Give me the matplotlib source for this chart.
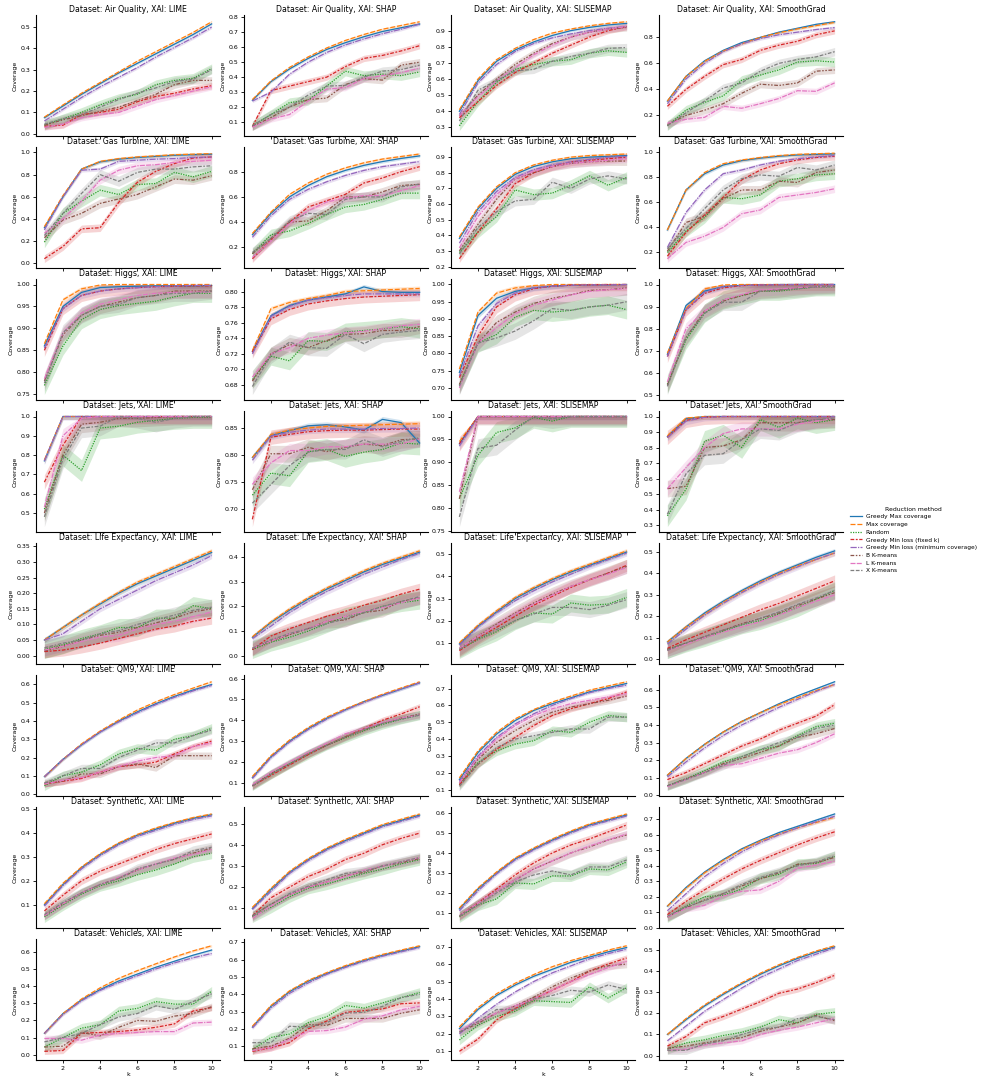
import matplotlib
matplotlib.use("Agg")
import matplotlib.pyplot as plt
import numpy as np

k = [1, 2, 3, 4, 5, 6, 7, 8, 9, 10]

methods = ["Greedy Max coverage", "Max coverage", "Random", "Greedy Min loss (fixed k)",
           "Greedy Min loss (minimum coverage)", "B K-means", "L K-means", "X K-means"]
datasets = ["Air Quality", "Gas Turbine", "Higgs", "Jets", "Life Expectancy", "QM9", "Synthetic", "Vehicles"]
xais = ["LIME", "SHAP", "SLISEMAP", "SmoothGrad"]

colors = ["#1f77b4", "#ff7f0e", "#2ca02c", "#d62728", "#9467bd", "#8c564b", "#e377c2", "#7f7f7f"]
dashes = [(), (4, 1.5), (1, 1), (3, 1.25, 1.5, 1.25), (5, 1, 1, 1),
          (3, 1.25, 1.25, 1.25, 1.25, 1.25), (4, 1, 4, 1, 1, 1), (3, 1.25, 3, 1.25, 1.25, 1.25)]
# band half width as share of the panel range
spread = [0.012, 0.012, 0.045, 0.03, 0.015, 0.035, 0.03, 0.04]
spread_scale = [1.0, 1.2, 2.0, 2.4, 2.0, 1.0, 1.2, 1.0]

# rows: blue, orange, green, red, purple, brown, pink, gray
air_quality_lime = [
    [0.075, 0.13, 0.185, 0.235, 0.285, 0.33, 0.375, 0.42, 0.465, 0.515],
    [0.078, 0.135, 0.19, 0.24, 0.29, 0.34, 0.385, 0.43, 0.475, 0.525],
    [0.04, 0.07, 0.1, 0.135, 0.165, 0.185, 0.23, 0.25, 0.26, 0.305],
    [0.035, 0.04, 0.09, 0.1, 0.115, 0.15, 0.175, 0.19, 0.21, 0.225],
    [0.06, 0.115, 0.17, 0.22, 0.265, 0.31, 0.36, 0.405, 0.45, 0.50],
    [0.04, 0.065, 0.085, 0.105, 0.125, 0.155, 0.185, 0.23, 0.25, 0.25],
    [0.03, 0.045, 0.075, 0.09, 0.1, 0.13, 0.16, 0.18, 0.2, 0.22],
    [0.045, 0.07, 0.09, 0.125, 0.16, 0.19, 0.215, 0.245, 0.255, 0.30],
]
air_quality_shap = [
    [0.245, 0.37, 0.455, 0.525, 0.585, 0.63, 0.67, 0.705, 0.73, 0.755],
    [0.25, 0.375, 0.465, 0.535, 0.595, 0.645, 0.685, 0.72, 0.745, 0.77],
    [0.075, 0.15, 0.23, 0.245, 0.34, 0.44, 0.41, 0.42, 0.41, 0.435],
    [0.07, 0.31, 0.34, 0.37, 0.4, 0.47, 0.525, 0.545, 0.575, 0.61],
    [0.24, 0.3, 0.42, 0.5, 0.565, 0.615, 0.655, 0.69, 0.72, 0.755],
    [0.07, 0.13, 0.2, 0.25, 0.26, 0.35, 0.39, 0.38, 0.48, 0.5],
    [0.065, 0.12, 0.15, 0.24, 0.32, 0.33, 0.39, 0.41, 0.43, 0.46],
    [0.075, 0.15, 0.2, 0.28, 0.34, 0.345, 0.4, 0.44, 0.45, 0.48],
]
air_quality_slisemap = [
    [0.4, 0.59, 0.71, 0.78, 0.83, 0.87, 0.9, 0.92, 0.935, 0.945],
    [0.41, 0.6, 0.72, 0.79, 0.845, 0.885, 0.91, 0.93, 0.945, 0.955],
    [0.31, 0.46, 0.58, 0.66, 0.69, 0.71, 0.72, 0.76, 0.775, 0.765],
    [0.36, 0.46, 0.56, 0.64, 0.7, 0.76, 0.81, 0.86, 0.9, 0.925],
    [0.38, 0.575, 0.69, 0.77, 0.82, 0.855, 0.88, 0.9, 0.915, 0.925],
    [0.37, 0.5, 0.6, 0.69, 0.76, 0.82, 0.86, 0.89, 0.91, 0.92],
    [0.37, 0.49, 0.59, 0.67, 0.75, 0.81, 0.86, 0.89, 0.91, 0.925],
    [0.34, 0.53, 0.59, 0.65, 0.66, 0.71, 0.74, 0.76, 0.79, 0.795],
]
air_quality_smoothgrad = [
    [0.31, 0.5, 0.62, 0.7, 0.76, 0.8, 0.84, 0.87, 0.9, 0.92],
    [0.31, 0.5, 0.615, 0.695, 0.75, 0.8, 0.835, 0.865, 0.89, 0.915],
    [0.12, 0.24, 0.3, 0.35, 0.47, 0.51, 0.55, 0.61, 0.62, 0.61],
    [0.27, 0.4, 0.5, 0.59, 0.63, 0.7, 0.74, 0.77, 0.82, 0.85],
    [0.29, 0.48, 0.6, 0.69, 0.75, 0.79, 0.82, 0.84, 0.86, 0.875],
    [0.13, 0.2, 0.24, 0.29, 0.37, 0.44, 0.43, 0.45, 0.54, 0.55],
    [0.14, 0.17, 0.185, 0.27, 0.255, 0.29, 0.33, 0.39, 0.385, 0.45],
    [0.12, 0.22, 0.31, 0.41, 0.45, 0.54, 0.6, 0.63, 0.65, 0.69],
]
gas_turbine_lime = [
    [0.32, 0.6, 0.85, 0.915, 0.94, 0.955, 0.965, 0.975, 0.98, 0.985],
    [0.33, 0.61, 0.85, 0.92, 0.945, 0.96, 0.97, 0.98, 0.985, 0.99],
    [0.19, 0.45, 0.56, 0.66, 0.62, 0.71, 0.72, 0.82, 0.78, 0.83],
    [0.04, 0.15, 0.31, 0.32, 0.55, 0.73, 0.83, 0.9, 0.95, 0.96],
    [0.3, 0.6, 0.84, 0.85, 0.92, 0.93, 0.94, 0.945, 0.955, 0.96],
    [0.23, 0.39, 0.45, 0.54, 0.58, 0.62, 0.69, 0.76, 0.75, 0.79],
    [0.27, 0.4, 0.56, 0.75, 0.84, 0.88, 0.89, 0.91, 0.92, 0.93],
    [0.25, 0.45, 0.63, 0.8, 0.74, 0.82, 0.85, 0.85, 0.87, 0.88],
]
gas_turbine_shap = [
    [0.3, 0.47, 0.6, 0.69, 0.76, 0.81, 0.85, 0.88, 0.905, 0.925],
    [0.31, 0.48, 0.62, 0.71, 0.78, 0.83, 0.87, 0.9, 0.92, 0.94],
    [0.15, 0.3, 0.33, 0.39, 0.46, 0.52, 0.54, 0.58, 0.63, 0.63],
    [0.11, 0.26, 0.4, 0.52, 0.57, 0.62, 0.71, 0.75, 0.8, 0.84],
    [0.28, 0.45, 0.58, 0.66, 0.72, 0.77, 0.81, 0.84, 0.86, 0.88],
    [0.15, 0.27, 0.4, 0.41, 0.49, 0.6, 0.6, 0.64, 0.69, 0.7],
    [0.12, 0.25, 0.39, 0.49, 0.56, 0.59, 0.61, 0.61, 0.65, 0.69],
    [0.16, 0.27, 0.41, 0.47, 0.46, 0.58, 0.6, 0.6, 0.68, 0.7],
]
gas_turbine_slisemap = [
    [0.38, 0.57, 0.7, 0.79, 0.84, 0.87, 0.89, 0.9, 0.905, 0.91],
    [0.39, 0.58, 0.71, 0.8, 0.85, 0.88, 0.9, 0.91, 0.915, 0.92],
    [0.29, 0.42, 0.52, 0.69, 0.66, 0.67, 0.72, 0.78, 0.72, 0.77],
    [0.25, 0.42, 0.57, 0.73, 0.8, 0.84, 0.87, 0.88, 0.89, 0.9],
    [0.35, 0.55, 0.68, 0.77, 0.82, 0.85, 0.87, 0.885, 0.9, 0.905],
    [0.3, 0.47, 0.63, 0.76, 0.8, 0.84, 0.86, 0.87, 0.875, 0.875],
    [0.32, 0.52, 0.66, 0.76, 0.81, 0.84, 0.86, 0.87, 0.88, 0.89],
    [0.28, 0.45, 0.55, 0.62, 0.63, 0.74, 0.7, 0.76, 0.78, 0.76],
]
gas_turbine_smoothgrad = [
    [0.38, 0.7, 0.83, 0.9, 0.935, 0.955, 0.97, 0.98, 0.985, 0.99],
    [0.38, 0.7, 0.84, 0.91, 0.94, 0.96, 0.975, 0.985, 0.99, 0.995],
    [0.2, 0.37, 0.48, 0.64, 0.63, 0.66, 0.77, 0.79, 0.82, 0.83],
    [0.17, 0.36, 0.5, 0.64, 0.78, 0.86, 0.91, 0.94, 0.96, 0.97],
    [0.24, 0.52, 0.7, 0.83, 0.86, 0.9, 0.93, 0.95, 0.965, 0.975],
    [0.21, 0.44, 0.49, 0.63, 0.7, 0.7, 0.77, 0.76, 0.84, 0.86],
    [0.15, 0.28, 0.33, 0.4, 0.51, 0.54, 0.64, 0.66, 0.68, 0.71],
    [0.23, 0.39, 0.55, 0.7, 0.79, 0.82, 0.81, 0.88, 0.86, 0.9],
]
higgs_lime = [
    [0.86, 0.95, 0.982, 0.993, 0.995, 0.996, 0.997, 0.997, 0.997, 0.998],
    [0.865, 0.965, 0.99, 0.999, 1.0, 1.0, 1.0, 1.0, 1.0, 1.0],
    [0.77, 0.86, 0.92, 0.943, 0.952, 0.957, 0.962, 0.972, 0.98, 0.98],
    [0.85, 0.945, 0.975, 0.985, 0.99, 0.993, 0.995, 0.996, 0.997, 0.997],
    [0.855, 0.945, 0.975, 0.985, 0.99, 0.993, 0.995, 0.997, 0.998, 0.998],
    [0.78, 0.885, 0.93, 0.95, 0.96, 0.97, 0.975, 0.985, 0.985, 0.985],
    [0.785, 0.89, 0.935, 0.955, 0.965, 0.975, 0.98, 0.982, 0.983, 0.983],
    [0.775, 0.89, 0.93, 0.95, 0.955, 0.97, 0.975, 0.98, 0.98, 0.985],
]
higgs_shap = [
    [0.723, 0.769, 0.782, 0.789, 0.793, 0.797, 0.806, 0.8, 0.799, 0.799],
    [0.724, 0.778, 0.786, 0.791, 0.795, 0.8, 0.801, 0.802, 0.803, 0.804],
    [0.687, 0.717, 0.711, 0.737, 0.736, 0.748, 0.75, 0.752, 0.755, 0.752],
    [0.722, 0.765, 0.777, 0.784, 0.788, 0.791, 0.793, 0.794, 0.795, 0.796],
    [0.72, 0.768, 0.781, 0.789, 0.792, 0.795, 0.797, 0.797, 0.797, 0.797],
    [0.685, 0.72, 0.732, 0.728, 0.737, 0.745, 0.746, 0.75, 0.75, 0.755],
    [0.69, 0.72, 0.728, 0.74, 0.744, 0.747, 0.749, 0.752, 0.756, 0.758],
    [0.678, 0.718, 0.735, 0.728, 0.727, 0.745, 0.733, 0.745, 0.748, 0.75],
]
higgs_slisemap = [
    [0.745, 0.91, 0.96, 0.98, 0.99, 0.995, 0.998, 0.999, 0.999, 1.0],
    [0.755, 0.92, 0.975, 0.99, 0.997, 1.0, 1.0, 1.0, 1.0, 1.0],
    [0.71, 0.83, 0.855, 0.905, 0.925, 0.92, 0.925, 0.935, 0.94, 0.927],
    [0.73, 0.85, 0.935, 0.97, 0.988, 0.995, 0.998, 0.999, 1.0, 1.0],
    [0.735, 0.88, 0.945, 0.975, 0.99, 0.995, 0.998, 0.999, 0.999, 1.0],
    [0.71, 0.83, 0.89, 0.92, 0.945, 0.96, 0.97, 0.983, 0.985, 0.99],
    [0.7, 0.83, 0.875, 0.915, 0.94, 0.955, 0.97, 0.98, 0.985, 0.988],
    [0.705, 0.83, 0.845, 0.865, 0.895, 0.93, 0.925, 0.935, 0.94, 0.95],
]
higgs_smoothgrad = [
    [0.685, 0.905, 0.97, 0.99, 0.997, 0.999, 1.0, 1.0, 1.0, 1.0],
    [0.69, 0.89, 0.98, 0.998, 1.0, 1.0, 1.0, 1.0, 1.0, 1.0],
    [0.55, 0.75, 0.87, 0.93, 0.95, 0.97, 0.97, 0.98, 0.99, 0.99],
    [0.675, 0.885, 0.96, 0.985, 0.995, 0.998, 0.999, 1.0, 1.0, 1.0],
    [0.675, 0.885, 0.965, 0.99, 0.995, 0.998, 0.999, 1.0, 1.0, 1.0],
    [0.545, 0.76, 0.88, 0.925, 0.95, 0.97, 0.975, 0.985, 0.99, 0.993],
    [0.56, 0.8, 0.88, 0.93, 0.955, 0.975, 0.98, 0.985, 0.99, 0.993],
    [0.54, 0.76, 0.87, 0.92, 0.92, 0.97, 0.975, 0.98, 0.99, 0.993],
]
jets_lime = [
    [0.77, 1.0, 1.0, 1.0, 1.0, 1.0, 1.0, 1.0, 1.0, 1.0],
    [0.775, 1.0, 1.0, 1.0, 1.0, 1.0, 1.0, 1.0, 1.0, 1.0],
    [0.52, 0.8, 0.72, 0.94, 0.95, 0.97, 0.98, 0.99, 0.995, 0.995],
    [0.66, 0.85, 1.0, 1.0, 1.0, 1.0, 1.0, 1.0, 1.0, 1.0],
    [0.77, 1.0, 1.0, 1.0, 1.0, 1.0, 1.0, 1.0, 1.0, 1.0],
    [0.5, 0.8, 0.96, 0.97, 0.99, 0.99, 0.995, 1.0, 1.0, 1.0],
    [0.53, 0.9, 0.99, 1.0, 1.0, 1.0, 1.0, 1.0, 1.0, 1.0],
    [0.48, 0.78, 0.94, 0.95, 1.0, 0.99, 0.97, 0.99, 1.0, 1.0],
]
jets_shap = [
    [0.795, 0.836, 0.845, 0.854, 0.856, 0.852, 0.846, 0.866, 0.86, 0.822],
    [0.795, 0.838, 0.846, 0.85, 0.853, 0.854, 0.855, 0.856, 0.857, 0.858],
    [0.725, 0.766, 0.761, 0.806, 0.81, 0.797, 0.805, 0.81, 0.822, 0.82],
    [0.68, 0.833, 0.838, 0.843, 0.845, 0.846, 0.846, 0.847, 0.848, 0.848],
    [0.79, 0.835, 0.842, 0.846, 0.848, 0.848, 0.848, 0.849, 0.849, 0.85],
    [0.735, 0.802, 0.802, 0.814, 0.806, 0.814, 0.82, 0.817, 0.828, 0.83],
    [0.745, 0.785, 0.808, 0.808, 0.815, 0.815, 0.82, 0.82, 0.82, 0.83],
    [0.71, 0.745, 0.78, 0.805, 0.81, 0.81, 0.828, 0.815, 0.825, 0.832],
]
jets_slisemap = [
    [0.94, 1.0, 1.0, 1.0, 1.0, 1.0, 1.0, 1.0, 1.0, 1.0],
    [0.945, 1.0, 1.0, 1.0, 1.0, 1.0, 1.0, 1.0, 1.0, 1.0],
    [0.82, 0.915, 0.965, 0.975, 0.998, 0.99, 1.0, 1.0, 1.0, 1.0],
    [0.94, 1.0, 1.0, 1.0, 1.0, 1.0, 1.0, 1.0, 1.0, 1.0],
    [0.935, 1.0, 1.0, 1.0, 1.0, 1.0, 1.0, 1.0, 1.0, 1.0],
    [0.82, 1.0, 1.0, 1.0, 1.0, 1.0, 1.0, 1.0, 1.0, 1.0],
    [0.835, 1.0, 1.0, 1.0, 1.0, 1.0, 1.0, 1.0, 1.0, 1.0],
    [0.78, 0.93, 0.937, 0.97, 1.0, 0.995, 1.0, 1.0, 1.0, 1.0],
]
jets_smoothgrad = [
    [0.87, 0.985, 1.0, 1.0, 1.0, 1.0, 1.0, 1.0, 1.0, 1.0],
    [0.875, 0.99, 1.0, 1.0, 1.0, 1.0, 1.0, 1.0, 1.0, 1.0],
    [0.36, 0.53, 0.84, 0.88, 0.8, 0.98, 0.93, 0.99, 0.96, 0.98],
    [0.865, 0.975, 0.995, 1.0, 1.0, 1.0, 1.0, 1.0, 1.0, 1.0],
    [0.865, 0.97, 0.995, 1.0, 1.0, 1.0, 1.0, 1.0, 1.0, 1.0],
    [0.535, 0.55, 0.8, 0.81, 0.85, 0.96, 0.96, 0.96, 0.98, 0.98],
    [0.535, 0.67, 0.8, 0.89, 0.92, 0.92, 0.92, 0.95, 0.97, 0.99],
    [0.37, 0.63, 0.75, 0.76, 0.85, 0.92, 0.91, 0.96, 0.98, 0.99],
]
life_expectancy_lime = [
    [0.05, 0.09, 0.13, 0.165, 0.2, 0.23, 0.255, 0.28, 0.305, 0.33],
    [0.05, 0.09, 0.13, 0.168, 0.203, 0.235, 0.26, 0.285, 0.31, 0.335],
    [0.02, 0.035, 0.055, 0.07, 0.09, 0.09, 0.12, 0.12, 0.16, 0.15],
    [0.013, 0.018, 0.028, 0.04, 0.055, 0.07, 0.085, 0.095, 0.11, 0.12],
    [0.05, 0.07, 0.11, 0.15, 0.18, 0.21, 0.24, 0.265, 0.29, 0.32],
    [0.015, 0.03, 0.05, 0.065, 0.075, 0.09, 0.105, 0.12, 0.14, 0.15],
    [0.018, 0.03, 0.045, 0.06, 0.065, 0.085, 0.1, 0.11, 0.125, 0.14],
    [0.025, 0.04, 0.05, 0.07, 0.08, 0.1, 0.115, 0.13, 0.145, 0.155],
]
life_expectancy_shap = [
    [0.075, 0.135, 0.185, 0.23, 0.27, 0.305, 0.34, 0.37, 0.395, 0.42],
    [0.077, 0.138, 0.19, 0.235, 0.275, 0.31, 0.345, 0.375, 0.4, 0.425],
    [0.025, 0.055, 0.075, 0.1, 0.13, 0.16, 0.175, 0.2, 0.215, 0.225],
    [0.025, 0.08, 0.11, 0.135, 0.16, 0.18, 0.205, 0.225, 0.25, 0.27],
    [0.07, 0.12, 0.175, 0.22, 0.26, 0.295, 0.33, 0.36, 0.39, 0.415],
    [0.03, 0.06, 0.085, 0.11, 0.14, 0.145, 0.175, 0.185, 0.22, 0.235],
    [0.03, 0.06, 0.09, 0.11, 0.14, 0.16, 0.18, 0.195, 0.215, 0.235],
    [0.03, 0.065, 0.09, 0.11, 0.13, 0.15, 0.175, 0.2, 0.22, 0.24],
]
life_expectancy_slisemap = [
    [0.095, 0.175, 0.24, 0.3, 0.345, 0.385, 0.42, 0.45, 0.48, 0.51],
    [0.1, 0.18, 0.245, 0.305, 0.35, 0.39, 0.425, 0.455, 0.485, 0.515],
    [0.07, 0.115, 0.15, 0.2, 0.235, 0.23, 0.28, 0.27, 0.275, 0.305],
    [0.065, 0.12, 0.17, 0.22, 0.27, 0.31, 0.35, 0.385, 0.415, 0.45],
    [0.09, 0.17, 0.235, 0.29, 0.335, 0.375, 0.41, 0.445, 0.475, 0.505],
    [0.075, 0.13, 0.185, 0.235, 0.28, 0.32, 0.355, 0.385, 0.415, 0.445],
    [0.075, 0.13, 0.18, 0.23, 0.275, 0.315, 0.355, 0.385, 0.41, 0.44],
    [0.07, 0.12, 0.16, 0.2, 0.23, 0.26, 0.26, 0.25, 0.27, 0.295],
]
life_expectancy_smoothgrad = [
    [0.08, 0.15, 0.215, 0.27, 0.32, 0.365, 0.405, 0.44, 0.475, 0.505],
    [0.08, 0.15, 0.21, 0.265, 0.315, 0.36, 0.4, 0.435, 0.465, 0.495],
    [0.045, 0.075, 0.1, 0.13, 0.16, 0.18, 0.21, 0.24, 0.28, 0.32],
    [0.05, 0.09, 0.125, 0.16, 0.195, 0.23, 0.26, 0.295, 0.33, 0.365],
    [0.07, 0.14, 0.205, 0.26, 0.31, 0.355, 0.395, 0.43, 0.465, 0.495],
    [0.045, 0.075, 0.105, 0.135, 0.165, 0.19, 0.215, 0.25, 0.28, 0.31],
    [0.04, 0.07, 0.1, 0.125, 0.15, 0.175, 0.205, 0.24, 0.27, 0.3],
    [0.04, 0.075, 0.105, 0.135, 0.16, 0.19, 0.22, 0.255, 0.285, 0.32],
]
qm9_lime = [
    [0.095, 0.19, 0.27, 0.34, 0.4, 0.45, 0.495, 0.535, 0.57, 0.6],
    [0.095, 0.19, 0.275, 0.345, 0.405, 0.46, 0.505, 0.545, 0.58, 0.615],
    [0.045, 0.1, 0.12, 0.16, 0.22, 0.25, 0.24, 0.3, 0.32, 0.36],
    [0.055, 0.07, 0.085, 0.12, 0.15, 0.16, 0.175, 0.22, 0.26, 0.29],
    [0.095, 0.19, 0.27, 0.34, 0.395, 0.445, 0.49, 0.53, 0.565, 0.595],
    [0.06, 0.07, 0.11, 0.11, 0.15, 0.165, 0.145, 0.21, 0.21, 0.21],
    [0.055, 0.075, 0.09, 0.12, 0.15, 0.18, 0.2, 0.21, 0.26, 0.28],
    [0.06, 0.1, 0.14, 0.14, 0.2, 0.24, 0.28, 0.28, 0.32, 0.35],
]
qm9_shap = [
    [0.125, 0.225, 0.3, 0.36, 0.41, 0.45, 0.49, 0.52, 0.55, 0.58],
    [0.13, 0.23, 0.305, 0.365, 0.415, 0.455, 0.49, 0.525, 0.555, 0.585],
    [0.085, 0.14, 0.19, 0.235, 0.28, 0.315, 0.35, 0.38, 0.405, 0.425],
    [0.085, 0.135, 0.185, 0.235, 0.28, 0.32, 0.36, 0.4, 0.43, 0.465],
    [0.12, 0.22, 0.295, 0.355, 0.405, 0.45, 0.485, 0.52, 0.55, 0.58],
    [0.085, 0.145, 0.19, 0.24, 0.28, 0.32, 0.355, 0.385, 0.41, 0.43],
    [0.09, 0.15, 0.2, 0.245, 0.29, 0.335, 0.36, 0.39, 0.41, 0.425],
    [0.085, 0.14, 0.19, 0.24, 0.28, 0.32, 0.355, 0.385, 0.405, 0.425],
]
qm9_slisemap = [
    [0.16, 0.32, 0.43, 0.51, 0.57, 0.61, 0.645, 0.68, 0.705, 0.73],
    [0.17, 0.33, 0.44, 0.52, 0.575, 0.62, 0.655, 0.69, 0.715, 0.74],
    [0.13, 0.26, 0.33, 0.37, 0.39, 0.45, 0.44, 0.5, 0.54, 0.53],
    [0.13, 0.25, 0.34, 0.41, 0.48, 0.54, 0.58, 0.61, 0.64, 0.68],
    [0.15, 0.3, 0.41, 0.49, 0.55, 0.6, 0.64, 0.675, 0.7, 0.72],
    [0.14, 0.28, 0.38, 0.45, 0.51, 0.56, 0.59, 0.61, 0.63, 0.655],
    [0.14, 0.29, 0.4, 0.48, 0.54, 0.58, 0.61, 0.63, 0.65, 0.67],
    [0.12, 0.25, 0.35, 0.4, 0.42, 0.44, 0.46, 0.46, 0.53, 0.53],
]
qm9_smoothgrad = [
    [0.115, 0.21, 0.29, 0.36, 0.42, 0.47, 0.52, 0.565, 0.605, 0.645],
    [0.115, 0.21, 0.29, 0.36, 0.42, 0.47, 0.515, 0.555, 0.595, 0.63],
    [0.055, 0.095, 0.14, 0.19, 0.22, 0.26, 0.28, 0.34, 0.39, 0.41],
    [0.09, 0.13, 0.18, 0.23, 0.28, 0.32, 0.37, 0.41, 0.45, 0.515],
    [0.105, 0.19, 0.27, 0.34, 0.4, 0.45, 0.5, 0.545, 0.59, 0.63],
    [0.055, 0.095, 0.13, 0.18, 0.21, 0.245, 0.28, 0.33, 0.35, 0.38],
    [0.05, 0.09, 0.13, 0.17, 0.18, 0.21, 0.24, 0.26, 0.3, 0.35],
    [0.055, 0.09, 0.13, 0.17, 0.22, 0.26, 0.3, 0.33, 0.38, 0.4],
]
synthetic_lime = [
    [0.1, 0.185, 0.255, 0.31, 0.355, 0.39, 0.415, 0.44, 0.46, 0.475],
    [0.105, 0.19, 0.258, 0.313, 0.358, 0.393, 0.42, 0.443, 0.463, 0.478],
    [0.05, 0.1, 0.145, 0.18, 0.2, 0.225, 0.245, 0.27, 0.3, 0.315],
    [0.075, 0.14, 0.2, 0.24, 0.27, 0.3, 0.33, 0.355, 0.375, 0.395],
    [0.095, 0.18, 0.25, 0.305, 0.35, 0.385, 0.41, 0.435, 0.455, 0.47],
    [0.055, 0.105, 0.15, 0.185, 0.21, 0.245, 0.27, 0.29, 0.315, 0.335],
    [0.055, 0.105, 0.15, 0.185, 0.215, 0.245, 0.27, 0.295, 0.31, 0.33],
    [0.06, 0.11, 0.15, 0.185, 0.21, 0.25, 0.27, 0.29, 0.325, 0.34],
]
synthetic_shap = [
    [0.1, 0.19, 0.27, 0.33, 0.38, 0.42, 0.455, 0.49, 0.515, 0.54],
    [0.105, 0.195, 0.275, 0.335, 0.385, 0.425, 0.46, 0.495, 0.52, 0.545],
    [0.06, 0.105, 0.155, 0.195, 0.215, 0.24, 0.265, 0.285, 0.31, 0.33],
    [0.065, 0.15, 0.2, 0.25, 0.285, 0.33, 0.36, 0.4, 0.43, 0.455],
    [0.095, 0.18, 0.265, 0.325, 0.375, 0.415, 0.45, 0.485, 0.51, 0.535],
    [0.065, 0.12, 0.165, 0.2, 0.225, 0.255, 0.27, 0.3, 0.315, 0.335],
    [0.055, 0.11, 0.165, 0.2, 0.225, 0.25, 0.28, 0.3, 0.32, 0.34],
    [0.065, 0.12, 0.17, 0.205, 0.235, 0.265, 0.275, 0.3, 0.32, 0.34],
]
synthetic_slisemap = [
    [0.12, 0.22, 0.3, 0.37, 0.42, 0.465, 0.505, 0.54, 0.565, 0.59],
    [0.125, 0.225, 0.305, 0.375, 0.425, 0.47, 0.51, 0.545, 0.57, 0.595],
    [0.08, 0.14, 0.17, 0.25, 0.245, 0.285, 0.285, 0.32, 0.315, 0.355],
    [0.085, 0.15, 0.22, 0.29, 0.35, 0.4, 0.44, 0.47, 0.505, 0.54],
    [0.11, 0.21, 0.295, 0.365, 0.415, 0.46, 0.5, 0.535, 0.56, 0.585],
    [0.085, 0.15, 0.21, 0.265, 0.32, 0.36, 0.4, 0.43, 0.465, 0.49],
    [0.085, 0.15, 0.21, 0.265, 0.32, 0.36, 0.4, 0.435, 0.465, 0.495],
    [0.085, 0.14, 0.2, 0.255, 0.29, 0.31, 0.29, 0.33, 0.33, 0.365],
]
synthetic_smoothgrad = [
    [0.14, 0.26, 0.36, 0.44, 0.51, 0.565, 0.615, 0.655, 0.695, 0.735],
    [0.14, 0.255, 0.355, 0.435, 0.505, 0.56, 0.605, 0.645, 0.68, 0.715],
    [0.07, 0.14, 0.2, 0.21, 0.25, 0.32, 0.345, 0.41, 0.415, 0.46],
    [0.085, 0.17, 0.245, 0.315, 0.38, 0.435, 0.485, 0.535, 0.58, 0.62],
    [0.11, 0.22, 0.33, 0.415, 0.49, 0.55, 0.6, 0.645, 0.685, 0.72],
    [0.07, 0.13, 0.18, 0.22, 0.27, 0.315, 0.355, 0.41, 0.42, 0.455],
    [0.07, 0.125, 0.145, 0.205, 0.235, 0.245, 0.3, 0.385, 0.405, 0.43],
    [0.075, 0.135, 0.175, 0.22, 0.28, 0.325, 0.36, 0.4, 0.425, 0.465],
]
vehicles_lime = [
    [0.125, 0.24, 0.32, 0.38, 0.43, 0.47, 0.51, 0.545, 0.58, 0.61],
    [0.125, 0.24, 0.325, 0.39, 0.445, 0.49, 0.53, 0.57, 0.605, 0.635],
    [0.045, 0.1, 0.155, 0.175, 0.255, 0.27, 0.31, 0.295, 0.295, 0.37],
    [0.02, 0.025, 0.125, 0.13, 0.135, 0.145, 0.16, 0.18, 0.255, 0.275],
    [0.125, 0.235, 0.315, 0.375, 0.42, 0.46, 0.5, 0.535, 0.565, 0.59],
    [0.045, 0.05, 0.13, 0.11, 0.16, 0.2, 0.195, 0.225, 0.24, 0.28],
    [0.095, 0.095, 0.085, 0.115, 0.125, 0.13, 0.135, 0.135, 0.185, 0.19],
    [0.075, 0.1, 0.125, 0.175, 0.22, 0.24, 0.285, 0.265, 0.31, 0.355],
]
vehicles_shap = [
    [0.21, 0.33, 0.415, 0.475, 0.52, 0.56, 0.595, 0.625, 0.65, 0.675],
    [0.215, 0.335, 0.42, 0.48, 0.525, 0.565, 0.6, 0.63, 0.655, 0.68],
    [0.08, 0.15, 0.17, 0.235, 0.27, 0.335, 0.32, 0.35, 0.38, 0.41],
    [0.07, 0.09, 0.12, 0.2, 0.245, 0.295, 0.305, 0.315, 0.345, 0.35],
    [0.205, 0.32, 0.405, 0.465, 0.515, 0.555, 0.59, 0.62, 0.645, 0.67],
    [0.085, 0.1, 0.145, 0.225, 0.22, 0.26, 0.26, 0.26, 0.29, 0.31],
    [0.075, 0.09, 0.14, 0.185, 0.19, 0.21, 0.255, 0.275, 0.31, 0.33],
    [0.12, 0.12, 0.215, 0.21, 0.235, 0.29, 0.295, 0.33, 0.38, 0.4],
]
vehicles_slisemap = [
    [0.23, 0.34, 0.42, 0.48, 0.53, 0.57, 0.61, 0.64, 0.67, 0.695],
    [0.24, 0.35, 0.43, 0.49, 0.54, 0.585, 0.62, 0.65, 0.68, 0.705],
    [0.165, 0.25, 0.3, 0.33, 0.39, 0.385, 0.38, 0.47, 0.405, 0.465],
    [0.1, 0.17, 0.28, 0.345, 0.4, 0.45, 0.5, 0.56, 0.6, 0.635],
    [0.2, 0.29, 0.37, 0.44, 0.5, 0.55, 0.59, 0.63, 0.66, 0.685],
    [0.21, 0.26, 0.32, 0.36, 0.41, 0.47, 0.52, 0.56, 0.59, 0.6],
    [0.22, 0.27, 0.32, 0.36, 0.4, 0.45, 0.5, 0.54, 0.58, 0.615],
    [0.21, 0.27, 0.34, 0.34, 0.4, 0.42, 0.45, 0.44, 0.48, 0.455],
]
vehicles_smoothgrad = [
    [0.1, 0.17, 0.235, 0.29, 0.34, 0.385, 0.425, 0.46, 0.49, 0.515],
    [0.1, 0.175, 0.24, 0.295, 0.345, 0.39, 0.43, 0.465, 0.495, 0.52],
    [0.03, 0.06, 0.075, 0.095, 0.11, 0.135, 0.17, 0.155, 0.195, 0.205],
    [0.045, 0.09, 0.155, 0.185, 0.22, 0.255, 0.295, 0.315, 0.345, 0.38],
    [0.07, 0.14, 0.21, 0.265, 0.32, 0.37, 0.41, 0.45, 0.48, 0.51],
    [0.035, 0.045, 0.06, 0.075, 0.085, 0.115, 0.135, 0.155, 0.19, 0.165],
    [0.025, 0.03, 0.05, 0.06, 0.07, 0.1, 0.12, 0.135, 0.155, 0.175],
    [0.025, 0.025, 0.055, 0.07, 0.1, 0.125, 0.135, 0.175, 0.185, 0.17],
]

panels = [
    [air_quality_lime, air_quality_shap, air_quality_slisemap, air_quality_smoothgrad],
    [gas_turbine_lime, gas_turbine_shap, gas_turbine_slisemap, gas_turbine_smoothgrad],
    [higgs_lime, higgs_shap, higgs_slisemap, higgs_smoothgrad],
    [jets_lime, jets_shap, jets_slisemap, jets_smoothgrad],
    [life_expectancy_lime, life_expectancy_shap, life_expectancy_slisemap, life_expectancy_smoothgrad],
    [qm9_lime, qm9_shap, qm9_slisemap, qm9_smoothgrad],
    [synthetic_lime, synthetic_shap, synthetic_slisemap, synthetic_smoothgrad],
    [vehicles_lime, vehicles_shap, vehicles_slisemap, vehicles_smoothgrad],
]

W, H = 984, 1077
fig = plt.figure(figsize=(W / 100, H / 100), dpi=100)

col_left = [36, 244, 451, 659]
ax_w, ax_h = 184, 121
row_top0, row_step = 15, 132

lines = []
for r, ds in enumerate(datasets):
    for c, xai in enumerate(xais):
        top = row_top0 + r * row_step
        ax = fig.add_axes([col_left[c] / W, 1 - (top + ax_h) / H, ax_w / W, ax_h / H])
        data = panels[r][c]
        rng = max(max(v) for v in data) - min(min(v) for v in data)
        for m in range(len(methods)):
            y = np.array(data[m])
            hw = spread[m] * spread_scale[r] * rng
            # coverage never goes above 1
            ax.fill_between(k, np.minimum(y + hw, 1.0), y - hw, color=colors[m], alpha=0.2, linewidth=0)
            ln, = ax.plot(k, y, color=colors[m], lw=0.9, dashes=dashes[m], label=methods[m])
            if r == 0 and c == 0:
                lines.append(ln)
        ax.set_title(f"Dataset: {ds}, XAI: {xai}", fontsize=5.6, pad=2)
        ax.set_ylabel("Coverage", fontsize=4.5, labelpad=2)
        ax.set_xticks([2, 4, 6, 8, 10])
        ax.tick_params(labelsize=4.5, length=2.5, width=0.6, pad=1.5)
        if r == len(datasets) - 1:
            ax.set_xlabel("k", fontsize=4.5, labelpad=1)
        else:
            ax.tick_params(labelbottom=False)
        for s in ["top", "right"]:
            ax.spines[s].set_visible(False)
        for s in ["left", "bottom"]:
            ax.spines[s].set_linewidth(0.8)

leg = fig.legend(handles=lines, labels=methods, title="Reduction method", loc="center left",
                 bbox_to_anchor=(846 / W, 537 / H), frameon=False, fontsize=4.2,
                 title_fontsize=4.4, handlelength=2.2, handletextpad=0.6, labelspacing=0.45,
                 borderaxespad=0.2)

fig.savefig("out.png", dpi=100)
